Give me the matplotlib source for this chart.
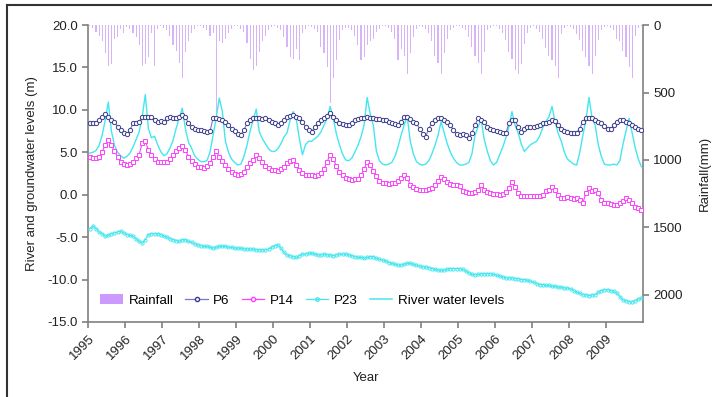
import numpy as np
import matplotlib
matplotlib.use("Agg")
import matplotlib.pyplot as plt
from matplotlib.lines import Line2D
from matplotlib.patches import Patch

# ==========================================
# DATA (monthly, Jan 1995 - Dec 2009)
# ==========================================
years = [str(y) for y in range(1995, 2010)]

rainfall = [
    10, 20, 50, 80, 120, 210, 300, 290, 100, 90, 30, 60,
    15, 30, 60, 90, 150, 300, 290, 240, 60, 300, 30, 10,
    20, 40, 80, 150, 190, 280, 390, 200, 120, 60, 30, 10,
    10, 20, 40, 80, 60, 680, 120, 130, 100, 60, 30, 10,
    10, 30, 50, 130, 250, 330, 300, 200, 120, 80, 40, 15,
    10, 20, 40, 90, 160, 240, 250, 180, 260, 60, 30, 10,
    15, 30, 50, 160, 210, 310, 575, 390, 260, 110, 40, 20,
    20, 40, 80, 150, 260, 240, 150, 120, 100, 50, 30, 10,
    10, 20, 50, 100, 260, 180, 230, 360, 210, 90, 30, 10,
    15, 30, 60, 120, 230, 280, 360, 210, 100, 40, 20, 10,
    10, 20, 40, 90, 160, 230, 280, 360, 200, 40, 20, 10,
    10, 30, 60, 110, 200, 250, 330, 360, 290, 140, 60, 20,
    10, 30, 50, 100, 170, 230, 260, 300, 390, 70, 20, 10,
    15, 30, 70, 110, 190, 240, 300, 360, 230, 110, 40, 15,
    10, 20, 40, 100, 120, 190, 240, 310, 390, 80, 20, 10,
]

p6 = [
    8.4, 8.4, 8.5, 8.8, 9.1, 9.5, 9.2, 8.8, 8.6, 8.0, 7.6, 7.3,
    7.1, 7.6, 8.4, 8.5, 8.6, 9.2, 9.2, 9.1, 9.1, 8.8, 8.6, 8.7,
    8.6, 9.0, 9.1, 9.0, 9.0, 9.2, 9.35, 9.2, 8.4, 8.0, 7.7, 7.6,
    7.6, 7.5, 7.4, 7.5, 9.0, 9.0, 8.9, 8.8, 8.6, 8.2, 7.8, 7.5,
    7.2, 7.0, 7.6, 8.4, 8.8, 9.0, 9.0, 9.0, 8.9, 9.0, 8.8, 8.6,
    8.4, 8.2, 8.5, 8.8, 9.2, 9.3, 9.4, 9.2, 9.0, 8.6, 8.0, 7.6,
    7.4, 8.0, 8.4, 8.8, 9.0, 9.3, 9.6, 9.2, 8.8, 8.4, 8.3, 8.2,
    8.2, 8.4, 8.8, 8.9, 9.0, 9.0, 9.1, 9.0, 9.0, 8.9, 8.9, 8.8,
    8.8, 8.6, 8.4, 8.3, 8.2, 8.6, 9.2, 9.1, 8.9, 8.6, 8.4, 7.8,
    7.2, 6.85, 7.8, 8.4, 8.8, 9.0, 9.0, 8.8, 8.6, 8.2, 7.6, 7.1,
    7.0, 7.2, 7.0, 6.65, 7.3, 8.2, 9.0, 8.8, 8.6, 8.0, 7.8, 7.6,
    7.5, 7.4, 7.3, 7.24, 8.4, 8.8, 8.8, 8.0, 7.4, 7.8, 8.0, 8.0,
    8.0, 8.1, 8.2, 8.4, 8.5, 8.6, 8.8, 8.7, 8.2, 7.8, 7.5, 7.4,
    7.3, 7.24, 7.3, 7.8, 8.6, 9.0, 9.0, 9.0, 8.8, 8.6, 8.4, 8.1,
    7.8, 7.7, 8.2, 8.6, 8.8, 8.8, 8.6, 8.5, 8.2, 8.0, 7.8, 7.6,
]

p14 = [
    4.5, 4.3, 4.3, 4.4, 5.0, 5.9, 6.45, 5.9, 5.1, 4.5, 3.9, 3.6,
    3.5, 3.6, 3.9, 4.3, 4.7, 6.1, 6.3, 5.3, 4.7, 4.2, 3.9, 3.9,
    3.8, 3.9, 4.2, 4.7, 5.1, 5.5, 5.7, 5.3, 4.5, 4.0, 3.6, 3.3,
    3.3, 3.2, 3.4, 3.7, 4.4, 5.1, 4.5, 4.0, 3.5, 3.0, 2.7, 2.4,
    2.3, 2.4, 2.7, 3.3, 3.7, 4.1, 4.7, 4.3, 3.8, 3.4, 3.1, 2.9,
    2.9, 2.8, 3.0, 3.3, 3.7, 4.0, 4.1, 3.5, 2.9, 2.5, 2.3, 2.3,
    2.3, 2.2, 2.3, 2.5, 3.0, 3.9, 4.7, 4.2, 3.4, 2.7, 2.3, 2.0,
    1.8, 1.74, 1.8, 1.9, 2.3, 3.0, 3.9, 3.5, 2.8, 2.2, 1.6, 1.4,
    1.35, 1.3, 1.35, 1.4, 1.6, 2.0, 2.33, 2.0, 1.15, 0.9, 0.7, 0.6,
    0.55, 0.6, 0.7, 0.8, 1.2, 1.6, 2.13, 1.8, 1.5, 1.3, 1.2, 1.15,
    1.0, 0.4, 0.3, 0.2, 0.2, 0.3, 0.6, 1.15, 0.6, 0.3, 0.2, 0.1,
    0.1, 0.0, 0.1, 0.3, 0.8, 1.55, 0.9, 0.2, -0.2, -0.2, -0.1, -0.2,
    -0.2, -0.1, -0.2, 0.0, 0.4, 0.6, 0.95, 0.5, 0.0, -0.4, -0.4, -0.3,
    -0.4, -0.5, -0.4, -0.6, -1.0, 0.2, 0.76, 0.4, 0.6, 0.2, -0.6, -1.0,
    -1.0, -1.1, -1.2, -1.2, -1.0, -0.8, -0.4, -0.6, -1.0, -1.4, -1.6, -1.8,
]

p23 = [
    -4.0, -3.7, -4.0, -4.4, -4.6, -4.9, -4.8, -4.6, -4.5, -4.4, -4.3, -4.5,
    -4.7, -4.8, -4.9, -5.2, -5.5, -5.7, -5.3, -4.7, -4.6, -4.6, -4.6, -4.7,
    -4.9, -5.0, -5.2, -5.3, -5.4, -5.5, -5.3, -5.3, -5.5, -5.6, -5.8, -5.9,
    -6.0, -6.1, -6.1, -6.2, -6.3, -6.2, -6.1, -6.1, -6.1, -6.2, -6.2, -6.3,
    -6.3, -6.3, -6.4, -6.4, -6.4, -6.4, -6.5, -6.5, -6.5, -6.5, -6.4, -6.2,
    -6.0, -5.9, -6.3, -6.8, -7.1, -7.2, -7.3, -7.4, -7.2, -7.0, -7.0, -6.9,
    -6.9, -7.0, -7.1, -7.1, -7.0, -7.1, -7.1, -7.2, -7.1, -7.0, -7.0, -7.0,
    -7.1, -7.2, -7.3, -7.4, -7.4, -7.5, -7.4, -7.3, -7.3, -7.5, -7.6, -7.7,
    -7.8, -8.0, -8.1, -8.2, -8.3, -8.3, -8.2, -8.1, -8.1, -8.2, -8.3, -8.4,
    -8.5, -8.5, -8.6, -8.7, -8.8, -8.9, -8.9, -8.9, -8.8, -8.7, -8.7, -8.7,
    -8.7, -8.8, -9.0, -9.2, -9.4, -9.45, -9.4, -9.3, -9.3, -9.3, -9.3, -9.4,
    -9.5, -9.6, -9.7, -9.8, -9.8, -9.8, -9.9, -9.9, -10.0, -10.0, -10.1, -10.2,
    -10.3, -10.5, -10.6, -10.6, -10.7, -10.7, -10.8, -10.8, -10.9, -10.9, -11.0, -11.0,
    -11.1, -11.3, -11.5, -11.6, -11.8, -11.8, -11.9, -11.8, -11.8, -11.5, -11.3, -11.2,
    -11.2, -11.3, -11.4, -11.6, -12.0, -12.4, -12.5, -12.6, -12.6, -12.5, -12.3, -12.2,
]

river = [
    4.9, 5.0, 5.2, 5.8, 7.0, 8.8, 10.9, 7.5, 5.8, 5.0, 4.6, 4.3,
    4.5, 4.9, 5.6, 6.5, 7.4, 9.2, 11.8, 7.8, 6.7, 6.9, 5.9, 5.1,
    4.6, 4.8, 5.5, 6.4, 7.8, 9.0, 10.2, 7.8, 6.2, 5.5, 4.6, 4.2,
    3.9, 3.9, 4.0, 5.0, 7.0, 9.0, 11.4, 9.8, 6.3, 5.0, 4.2, 3.8,
    3.5, 3.6, 4.5, 5.8, 7.5, 8.8, 10.1, 7.4, 6.6, 6.0, 5.4, 5.1,
    5.1, 5.4, 6.0, 6.8, 7.3, 8.8, 9.8, 8.9, 6.6, 4.7, 5.9, 6.3,
    6.3, 6.6, 6.9, 7.4, 8.2, 9.0, 10.4, 9.0, 7.2, 5.9, 4.8, 4.1,
    4.0, 4.3, 5.0, 5.8, 6.8, 8.2, 11.45, 9.5, 8.2, 5.1, 4.0, 3.6,
    3.5, 3.6, 3.8, 4.5, 5.6, 7.0, 8.2, 9.2, 6.3, 4.8, 3.9, 3.6,
    3.5, 3.6, 4.0, 4.8, 5.8, 7.0, 8.6, 7.3, 6.0, 5.0, 4.3, 3.8,
    3.5, 3.5, 3.6, 3.8, 4.8, 7.0, 8.0, 8.9, 6.5, 5.1, 4.0, 3.5,
    3.8, 4.7, 5.6, 6.7, 8.0, 9.8, 8.2, 7.3, 6.0, 5.1, 5.5, 5.9,
    6.1, 6.3, 6.9, 7.9, 8.6, 9.2, 10.4, 8.6, 7.2, 6.3, 5.0, 4.2,
    3.9, 3.6, 3.5, 5.0, 7.0, 8.8, 11.45, 9.0, 8.2, 5.9, 4.5, 3.6,
    3.5, 3.5, 3.6, 3.5, 4.0, 5.9, 7.5, 9.0, 7.3, 5.5, 4.2, 3.3,
]

# ==========================================
# PLOTTING
# ==========================================
plt.rcParams['font.family'] = ['Liberation Sans', 'DejaVu Sans']
plt.rcParams['axes.unicode_minus'] = False

RAIN_COLOR = '#cc99ff'
RAIN_BAR = '#d7b3f7'
P6_LINE = '#7777cc'
P6_EDGE = '#3a3a88'
P14_COLOR = '#ff40ff'
CYAN = '#45e6ef'
GRAY = '#808080'
TXT = '#222222'

fig = plt.figure(figsize=(7.12, 3.97), dpi=100)
ax = fig.add_axes([0.124, 0.189, 0.779, 0.748])

x = np.arange(len(river)) + 0.5

ax.plot(x, river, color=CYAN, lw=1.0, zorder=2)
ax.plot(x, p6, color=P6_LINE, lw=0.8, marker='o', markersize=3.1,
        markerfacecolor='white', markeredgecolor=P6_EDGE, markeredgewidth=0.7, zorder=3)
ax.plot(x, p14, color=P14_COLOR, lw=0.8, marker='s', markersize=2.9,
        markerfacecolor='white', markeredgecolor=P14_COLOR, markeredgewidth=0.7, zorder=3)
ax.plot(x, p23, color=CYAN, lw=0.8, marker='o', markersize=2.3,
        markerfacecolor='none', markeredgecolor=CYAN, markeredgewidth=0.7, zorder=3)

ax.set_xlim(0, len(river))
ax.set_ylim(-15, 20)
ax.set_yticks(np.arange(-15, 21, 5))
ax.set_yticklabels(['%.1f' % v for v in np.arange(-15, 21, 5)])
ax.set_xticks(np.arange(0, len(river), 12))
ax.set_xticklabels(years, rotation=45, ha='right', va='top', rotation_mode='anchor')

for side in ['top', 'right']:
    ax.spines[side].set_visible(False)
for side in ['left', 'bottom']:
    ax.spines[side].set_color(GRAY)
    ax.spines[side].set_linewidth(1.2)
ax.tick_params(axis='both', colors=GRAY, labelcolor=TXT, labelsize=9.5,
               direction='out', length=4, width=1.2)
ax.tick_params(axis='x', pad=4)

ax.set_xlabel('Year', fontsize=9.5, color=TXT)
ax.xaxis.set_label_coords(0.5, -0.17)
ax.set_ylabel('River and groundwater levels (m)', fontsize=9.5, color=TXT)
ax.yaxis.set_label_coords(-0.09, 0.5)

# rainfall on an inverted secondary axis
ax2 = ax.twinx()
ax2.bar(x, rainfall, width=0.35, color=RAIN_BAR, zorder=1)
ax2.set_ylim(2200, 0)
ax2.set_yticks([0, 500, 1000, 1500, 2000])
for side in ['top', 'left', 'bottom']:
    ax2.spines[side].set_visible(False)
ax2.spines['right'].set_color(GRAY)
ax2.spines['right'].set_linewidth(1.2)
ax2.tick_params(axis='y', colors=GRAY, labelcolor=TXT, labelsize=9.5,
                direction='out', length=4, width=1.2)
ax2.set_ylabel('Rainfall(mm)', fontsize=9.5, color=TXT)
ax2.yaxis.set_label_coords(1.1, 0.5)

ax.set_zorder(ax2.get_zorder() + 1)
ax.patch.set_visible(False)

handles = [
    Patch(facecolor=RAIN_COLOR, edgecolor='none', label='Rainfall'),
    Line2D([], [], color=P6_LINE, lw=0.9, marker='o', markersize=3,
           markerfacecolor='white', markeredgecolor=P6_EDGE, label='P6'),
    Line2D([], [], color=P14_COLOR, lw=0.9, marker='o', markersize=3,
           markerfacecolor='white', markeredgecolor=P14_COLOR, label='P14'),
    Line2D([], [], color=CYAN, lw=0.9, marker='o', markersize=2.5,
           markerfacecolor='none', markeredgecolor=CYAN, label='P23'),
    Line2D([], [], color=CYAN, lw=1.1, label='River water levels'),
]
ax.legend(handles=handles, loc='lower left', bbox_to_anchor=(0.005, 0.02), ncol=5,
          frameon=False, fontsize=9.6, handlelength=1.7, handletextpad=0.4,
          columnspacing=0.9, borderaxespad=0.3)

# outer frame lines seen at the top and left of the picture
fig.add_artist(Line2D([0.0098, 1.0], [0.987, 0.987], transform=fig.transFigure,
                      color='#333333', lw=1.5))
fig.add_artist(Line2D([0.0098, 0.0098], [0.0, 0.987], transform=fig.transFigure,
                      color='#333333', lw=1.5))

fig.savefig('out.png', dpi=100)
plt.close(fig)
